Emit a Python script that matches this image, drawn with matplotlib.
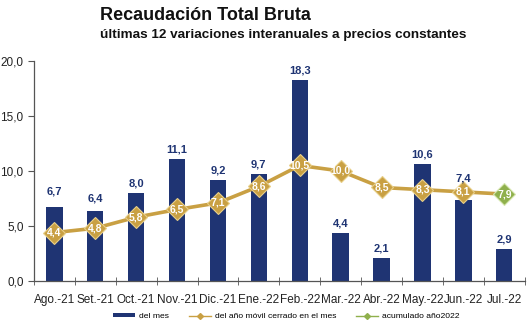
import matplotlib
matplotlib.use("Agg")
import matplotlib.pyplot as plt
from matplotlib.ticker import FixedLocator, FuncFormatter
from matplotlib.lines import Line2D
from matplotlib.patches import Patch

plt.rcParams['font.family'] = ['Liberation Sans', 'DejaVu Sans']

NAVY = '#1F3473'
GOLD = '#C9A043'
GREEN = '#8FB04C'

# ── Data ──────────────────────────────────────────────────────────────────────
months = ['Ago.-21', 'Set.-21', 'Oct.-21', 'Nov.-21', 'Dic.-21', 'Ene.-22',
          'Feb.-22', 'Mar.-22', 'Abr.-22', 'May.-22', 'Jun.-22', 'Jul.-22']
del_mes = [6.7, 6.4, 8.0, 11.1, 9.2, 9.7, 18.3, 4.4, 2.1, 10.6, 7.4, 2.9]
anio_movil = [4.4, 4.8, 5.8, 6.5, 7.1, 8.6, 10.5, 10.0, 8.5, 8.3, 8.1, 7.9]
acumulado_idx = [11]
acumulado = [7.9]

# bar labels lifted a bit more where the line passes close (points)
LABEL_GAP = 3.2
LABEL_GAP_EXTRA = {0: 8.0, 1: 5.0, 10: 11.5}

fig = plt.figure(figsize=(5.30, 3.26), dpi=100)
ax = fig.add_axes([0.064, 0.138, 0.926, 0.675])

x = list(range(len(months)))
ax.bar(x, del_mes, width=0.4, color=NAVY, zorder=2)
for xi, v in zip(x, del_mes):
    ax.annotate(f'{v:.1f}'.replace('.', ','), xy=(xi, v),
                xytext=(0, LABEL_GAP_EXTRA.get(xi, LABEL_GAP)), textcoords='offset points',
                ha='center', va='bottom', fontsize=8, fontweight='bold',
                color=NAVY, zorder=5)

ax.plot(x, anio_movil, color=GOLD, lw=2.6, zorder=3)
ax.plot(x[:-1], anio_movil[:-1], ls='none', marker='D', ms=11, color=GOLD,
        mec='#E8CF88', mew=0.8, zorder=4)
ax.plot(acumulado_idx, acumulado, ls='none', marker='D', ms=11, color=GREEN,
        mec='#D6E6B0', mew=0.8, zorder=4)
for xi, v in zip(x, anio_movil):
    ax.text(xi, v, f'{v:.1f}'.replace('.', ','), ha='center', va='center',
            fontsize=7.5, fontweight='bold', color='white', zorder=6)

ax.set_xlim(-0.5, 11.5)
ax.set_ylim(0, 20)
ax.yaxis.set_major_locator(FixedLocator([0, 5, 10, 15, 20]))
ax.yaxis.set_major_formatter(FuncFormatter(lambda v, p: f'{v:.1f}'.replace('.', ',')))
ax.set_xticks(x)
ax.set_xticklabels(months)
ax.set_xticks([i + 0.5 for i in range(-1, 12)], minor=True)
ax.tick_params(axis='x', which='major', length=0, labelsize=8.5, pad=9, colors='#222222')
ax.tick_params(axis='x', which='minor', length=6, direction='inout', color='#555555')
ax.tick_params(axis='y', length=4, direction='out', labelsize=8.5,
               color='#555555', labelcolor='#222222')
for s in ['top', 'right']:
    ax.spines[s].set_visible(False)
for s in ['left', 'bottom']:
    ax.spines[s].set_color('#555555')
    ax.spines[s].set_linewidth(0.9)

handles = [
    Patch(facecolor=NAVY),
    Line2D([0], [0], color=GOLD, lw=1, marker='D', ms=3),
    Line2D([0], [0], color=GREEN, lw=1, marker='D', ms=3),
]
labels = ['del mes', 'del año móvil cerrado en el mes', 'acumulado año2022']
fig.legend(handles, labels, loc='center', bbox_to_anchor=(0.54, 0.028), ncol=3,
           frameon=False, fontsize=6.1, handlelength=2.6, handleheight=0.35,
           columnspacing=2.3, handletextpad=0.5)

fig.text(0.189, 0.952, 'Recaudación Total Bruta', fontsize=13, fontweight='bold',
         ha='left', va='center', color='#111111')
fig.text(0.189, 0.893, 'últimas 12 variaciones interanuales a precios constantes',
         fontsize=9.7, fontweight='bold', ha='left', va='center', color='#111111')

fig.savefig('out.png', dpi=100)
